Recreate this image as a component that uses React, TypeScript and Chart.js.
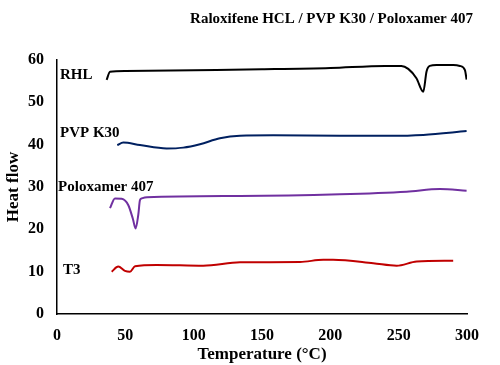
import React, { useEffect, useRef } from "react";
import { Chart, registerables } from "chart.js";

Chart.register(...registerables);

const titleText = "Raloxifene HCL / PVP K30 / Poloxamer 407";
const xTitle = "Temperature (°C)";
const yTitle = "Heat flow";

const rhlX = [36.3, 38.8, 50, 100, 150, 200, 240, 252, 257, 263, 268, 270.4, 272.8, 277.7, 290, 294.8, 298.5, 299.7];
const rhlY = [55.3, 57.2, 57.4, 57.6, 57.8, 58.1, 58.6, 58.6, 57.9, 55.7, 52.5, 57.3, 58.6, 58.8, 58.8, 58.6, 57.6, 55.4];

const pvpX = [44.1, 48.5, 60.7, 80.2, 92.4, 104.6, 119.2, 133.9, 158.2, 207, 243.6, 268, 299.7];
const pvpY = [39.9, 40.5, 39.9, 39.1, 39.3, 40.1, 41.5, 42.1, 42.2, 42.1, 42.1, 42.3, 43.2];

const poloX = [38.8, 42.4, 47.3, 52.2, 55.5, 57.5, 59.5, 60.7, 62, 65.9, 133.9, 207, 255.8, 280.2, 299.7];
const poloY = [25.0, 27.3, 27.2, 25.7, 22.5, 20.2, 23.5, 26.9, 27.3, 27.6, 27.9, 28.3, 28.9, 29.5, 29.1];

const t3X = [40, 44.8, 49.7, 53.4, 57.1, 72.9, 107, 133.9, 177.8, 194.8, 202, 231.4, 248.5, 263.2, 289.9];
const t3Y = [10.0, 11.2, 10.2, 10.0, 11.3, 11.6, 11.4, 12.2, 12.3, 12.8, 12.8, 12.0, 11.4, 12.4, 12.6];

const seriesNames = ["RHL", "PVP K30", "Poloxamer 407", "T3"];
const seriesColors = ["#000000", "#002060", "#7030A0", "#C00000"];

const labelNames = ["RHL", "PVP K30", "Poloxamer 407", "T3"];
const labelX = [2.2, 2.2, 0.8, 4.4];
const labelY = [56.5, 42.8, 30.0, 10.4];

const FONT = "'Liberation Serif', 'Times New Roman', serif";

const zip = (xs: number[], ys: number[]) => xs.map((x, i) => ({ x, y: ys[i] }));

export default function App() {
  const ref = useRef<HTMLCanvasElement | null>(null);

  useEffect(() => {
    document.body.style.margin = "0";
    const canvas = ref.current;
    if (!canvas) return;

    const labelPlugin = {
      id: "seriesLabels",
      afterDatasetsDraw(chart: any) {
        const ctx = chart.ctx;
        const xs = chart.scales.x;
        const ys = chart.scales.y;
        ctx.save();
        ctx.font = `bold 15px ${FONT}`;
        ctx.fillStyle = "#000";
        ctx.textAlign = "left";
        ctx.textBaseline = "middle";
        labelNames.forEach((n, i) => {
          ctx.fillText(n, xs.getPixelForValue(labelX[i]), ys.getPixelForValue(labelY[i]));
        });
        ctx.restore();
      },
    };

    const titlePlugin = {
      id: "customTitle",
      afterDraw(chart: any) {
        const ctx = chart.ctx;
        ctx.save();
        ctx.font = `bold 15px ${FONT}`;
        ctx.fillStyle = "#000";
        ctx.textAlign = "right";
        ctx.textBaseline = "middle";
        ctx.fillText(titleText, 473, 19);
        ctx.restore();
      },
    };

    const datasets = [
      zip(rhlX, rhlY),
      zip(pvpX, pvpY),
      zip(poloX, poloY),
      zip(t3X, t3Y),
    ].map((d, i) => ({
      label: seriesNames[i],
      data: d,
      borderColor: seriesColors[i],
      backgroundColor: seriesColors[i],
      borderWidth: 2,
      pointRadius: 0,
      tension: 0.4,
      cubicInterpolationMode: "monotone" as const,
      fill: false,
    }));

    const chart = new Chart(canvas, {
      type: "line",
      data: { datasets },
      plugins: [labelPlugin, titlePlugin],
      options: {
        animation: false,
        responsive: false,
        maintainAspectRatio: false,
        layout: { padding: { top: 60, right: 33, left: 0, bottom: 0 } },
        plugins: {
          legend: { display: false },
          title: { display: false },
          tooltip: { enabled: false },
        },
        scales: {
          x: {
            type: "linear",
            min: 0,
            max: 300,
            ticks: {
              stepSize: 50,
              color: "#000",
              font: { family: FONT, size: 16, weight: "bold" },
              padding: 12,
              maxRotation: 0,
            },
            grid: { display: false, drawTicks: false },
            border: { display: true, color: "#000", width: 1.5 },
            title: {
              display: true,
              text: xTitle,
              color: "#000",
              font: { family: FONT, size: 17, weight: "bold" },
              padding: { top: 0, bottom: 0 },
            },
            afterFit(scale: any) {
              scale.height = 51;
            },
          },
          y: {
            type: "linear",
            min: 0,
            max: 60,
            ticks: {
              stepSize: 10,
              color: "#000",
              font: { family: FONT, size: 16, weight: "bold" },
              padding: 13,
            },
            grid: { display: false, drawTicks: false },
            border: { display: true, color: "#000", width: 1.5 },
            title: {
              display: true,
              text: yTitle,
              color: "#000",
              font: { family: FONT, size: 17, weight: "bold" },
              padding: { top: 3, bottom: 0 },
            },
            afterFit(scale: any) {
              scale.width = 57;
            },
          },
        },
      },
    });

    return () => chart.destroy();
  }, []);

  return (
    <div style={{ width: 500, height: 365, position: "relative" }}>
      <canvas ref={ref} width={500} height={365} style={{ display: "block" }} />
    </div>
  );
}
